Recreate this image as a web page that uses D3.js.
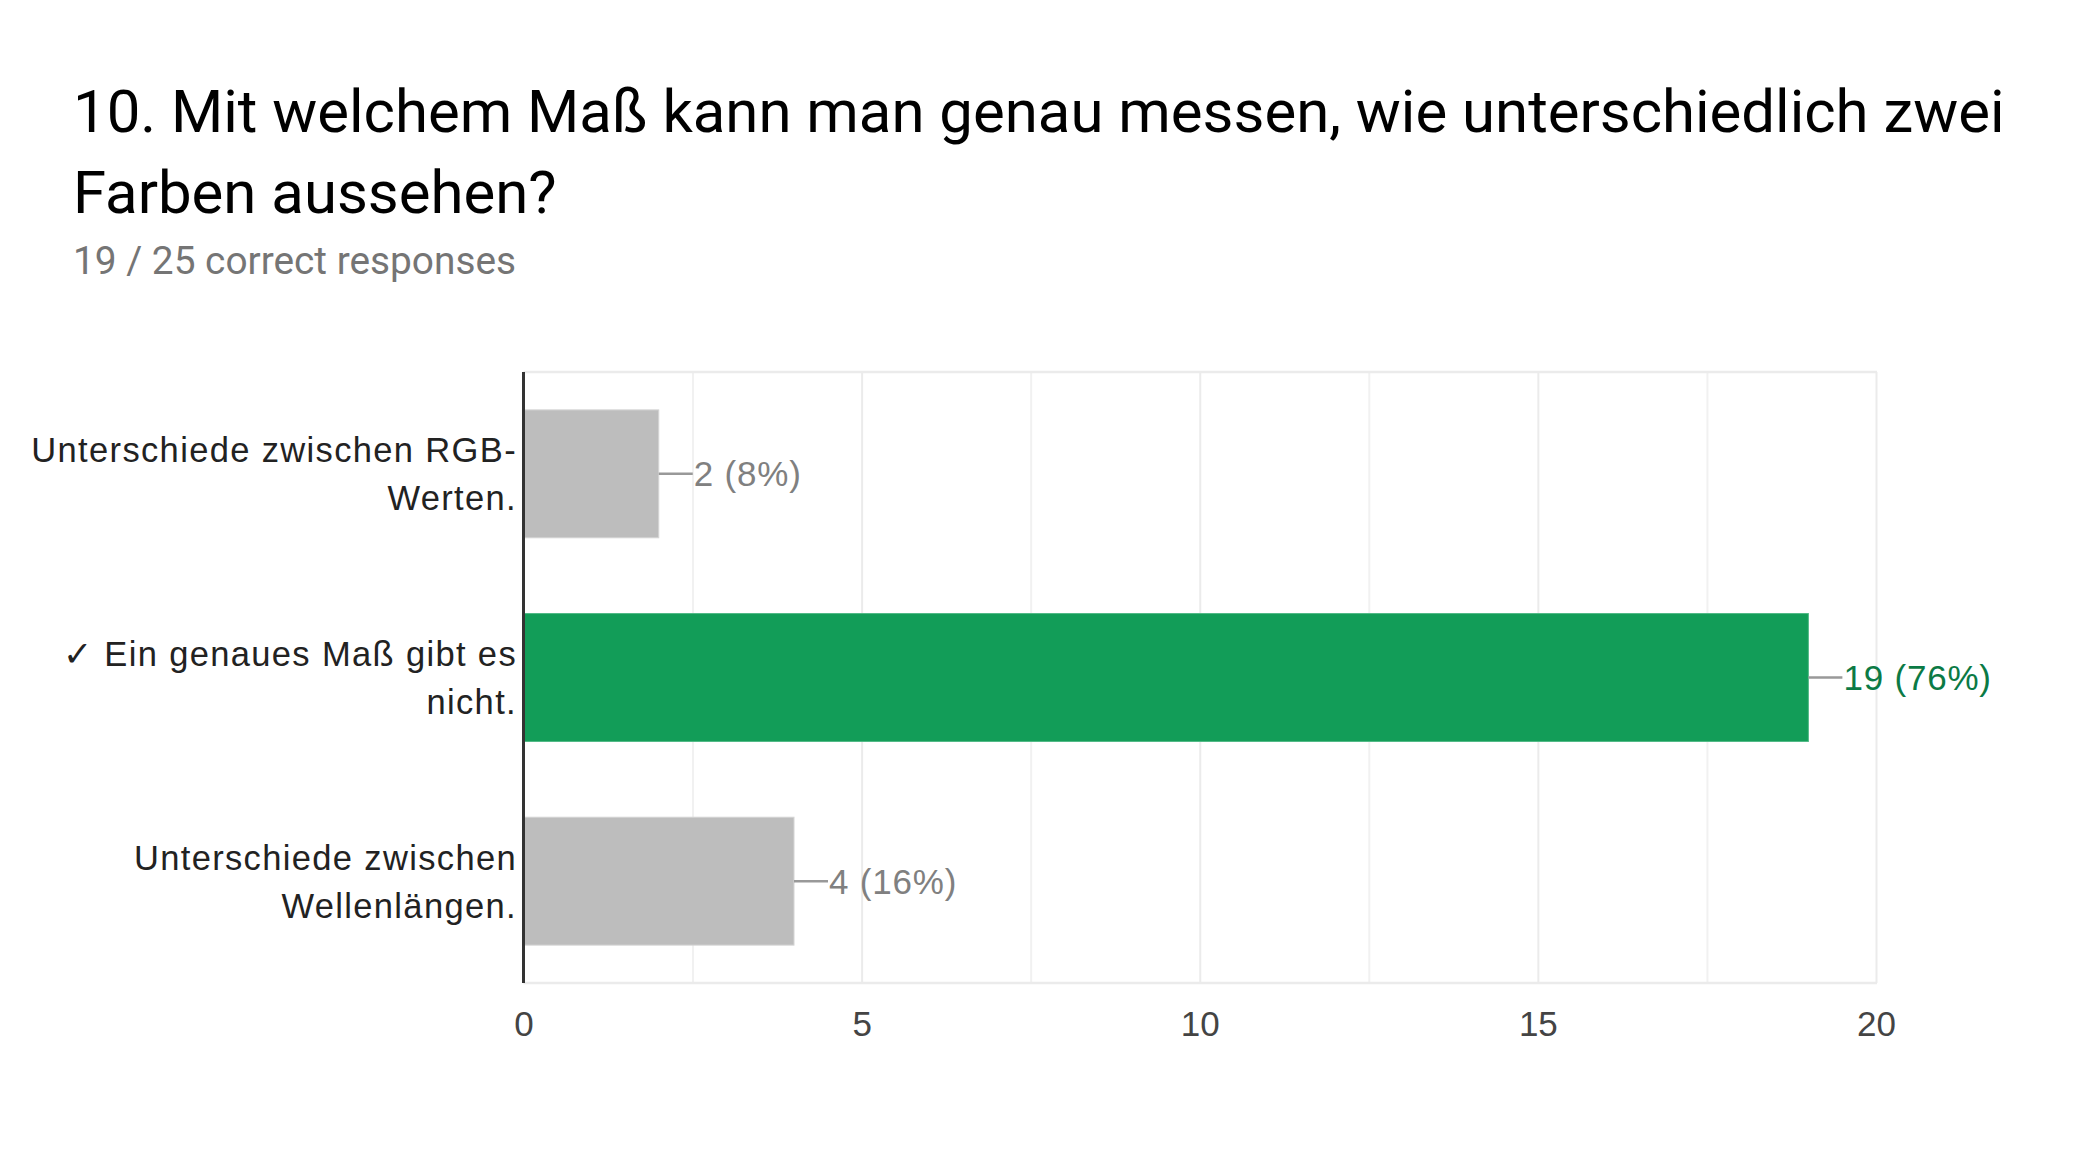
<!DOCTYPE html>
<html>
<head>
<meta charset="utf-8">
<script src="https://cdn.jsdelivr.net/npm/d3@7"></script>
<style>
  body { margin: 0; background: #fff; }
  svg { display: block; }
</style>
</head>
<body>
<div id="chart"></div>
<script>
const titleLines = ['10. Mit welchem Maß kann man genau messen, wie unterschiedlich zwei', 'Farben aussehen?'];
const subtitle = '19 / 25 correct responses';

// answers, wrapped the way the chart wraps them
const categories = [
  'Unterschiede zwischen RGB-\nWerten.',
  '\u2713 Ein genaues Maß gibt es\nnicht.',
  'Unterschiede zwischen\nWellenlängen.'
];
const counts = [2, 19, 4];
const percents = [8, 76, 16];
const correct = [false, true, false];
const majorTicks = [0, 5, 10, 15, 20];
const minorTicks = [2.5, 7.5, 12.5, 17.5];

const width = 2088;
const height = 1164;
const plot = { left: 523.5, right: 1876, top: 372, bottom: 983 };
const sans = '"Liberation Sans", Arial, sans-serif';

const svg = d3.select('#chart')
  .append('svg')
  .attr('width', width)
  .attr('height', height);

svg.append('rect').attr('width', width).attr('height', height).attr('fill', '#fff');

// Title + subtitle
svg.append('g')
  .selectAll('text')
  .data(titleLines)
  .join('text')
  .attr('x', 73)
  .attr('y', (d, i) => 132 + i * 80.5)
  .attr('font-family', 'Roboto')
  .attr('font-size', 59.9)
  .attr('fill', '#000')
  .text((d) => d);

svg.append('text')
  .attr('x', 73)
  .attr('y', 274)
  .attr('font-family', 'Roboto')
  .attr('font-size', 38.8)
  .attr('fill', '#757575')
  .text(subtitle);

const xScale = d3.scaleLinear().domain([0, 20]).range([plot.left, plot.right]);
const yScale = d3.scaleBand()
  .domain(categories)
  .range([plot.top, plot.bottom])
  .paddingInner(0.372)
  .paddingOuter(0.186);

// Gridlines
svg.append('g')
  .attr('transform', `translate(0, ${plot.bottom})`)
  .call(d3.axisBottom(xScale).tickValues(minorTicks).tickFormat('').tickSize(-(plot.bottom - plot.top)))
  .call((g) => g.select('.domain').remove())
  .call((g) => g.selectAll('line').attr('stroke', '#f1f1f1').attr('stroke-width', 2));

svg.append('g')
  .attr('transform', `translate(0, ${plot.bottom})`)
  .call(d3.axisBottom(xScale).tickValues(majorTicks).tickFormat('').tickSize(-(plot.bottom - plot.top)))
  .call((g) => g.select('.domain').remove())
  .call((g) => g.selectAll('line').attr('stroke', '#ebebeb').attr('stroke-width', 2));

// frame top / bottom
svg.append('g')
  .selectAll('line')
  .data([plot.top, plot.bottom])
  .join('line')
  .attr('x1', plot.left)
  .attr('x2', plot.right + 1)
  .attr('y1', (d) => d)
  .attr('y2', (d) => d)
  .attr('stroke', '#ebebeb')
  .attr('stroke-width', 2.5);

// Tick labels
svg.append('g')
  .attr('transform', `translate(0, ${plot.bottom})`)
  .call(d3.axisBottom(xScale).tickValues(majorTicks).tickSize(0).tickPadding(53))
  .call((g) => g.select('.domain').remove())
  .call((g) => g.selectAll('text')
    .attr('font-family', sans)
    .attr('font-size', 35)
    .attr('fill', '#444')
    .attr('dy', 0));

// Bars
const rows = categories.map((c, i) => ({ cat: c, n: counts[i], pct: percents[i], ok: correct[i] }));

svg.append('g')
  .selectAll('rect')
  .data(rows)
  .join('rect')
  .attr('x', xScale(0))
  .attr('y', (d) => yScale(d.cat))
  .attr('width', (d) => xScale(d.n) - xScale(0))
  .attr('height', yScale.bandwidth())
  .attr('fill', (d) => (d.ok ? '#129d58' : '#bdbdbd'))
  .attr('stroke', (d) => (d.ok ? '#4fb985' : '#d4d4d4'))
  .attr('stroke-width', 1);

// Left axis line
svg.append('line')
  .attr('x1', plot.left)
  .attr('x2', plot.left)
  .attr('y1', plot.top)
  .attr('y2', plot.bottom)
  .attr('stroke', '#333')
  .attr('stroke-width', 3);

// Value labels with connector
const labels = svg.append('g').selectAll('g').data(rows).join('g');

labels.append('line')
  .attr('x1', (d) => xScale(d.n))
  .attr('x2', (d) => xScale(d.n) + 34)
  .attr('y1', (d) => yScale(d.cat) + yScale.bandwidth() / 2)
  .attr('y2', (d) => yScale(d.cat) + yScale.bandwidth() / 2)
  .attr('stroke', '#999')
  .attr('stroke-width', 2.5);

labels.append('text')
  .attr('x', (d) => xScale(d.n) + 35)
  .attr('y', (d) => yScale(d.cat) + yScale.bandwidth() / 2 + 12.5)
  .attr('font-family', sans)
  .attr('font-size', 35)
  .attr('letter-spacing', 0.8)
  .attr('fill', (d) => (d.ok ? '#0b7a45' : '#808080'))
  .text((d) => `${d.n} (${d.pct}%)`);

// Category labels
const catText = svg.append('g')
  .selectAll('text')
  .data(rows)
  .join('text')
  .attr('text-anchor', 'end')
  .attr('font-family', sans)
  .attr('font-size', 34.5)
  .attr('letter-spacing', 1.35)
  .attr('fill', '#222');

catText.selectAll('tspan')
  .data((d) => d.cat.split('\n').map((t, i, arr) => ({ t, i, k: arr.length, mid: yScale(d.cat) + yScale.bandwidth() / 2 })))
  .join('tspan')
  .attr('x', 517)
  .attr('y', (d) => d.mid + 12.5 + (d.i - (d.k - 1) / 2) * 48)
  .text((d) => d.t);
</script>
</body>
</html>
